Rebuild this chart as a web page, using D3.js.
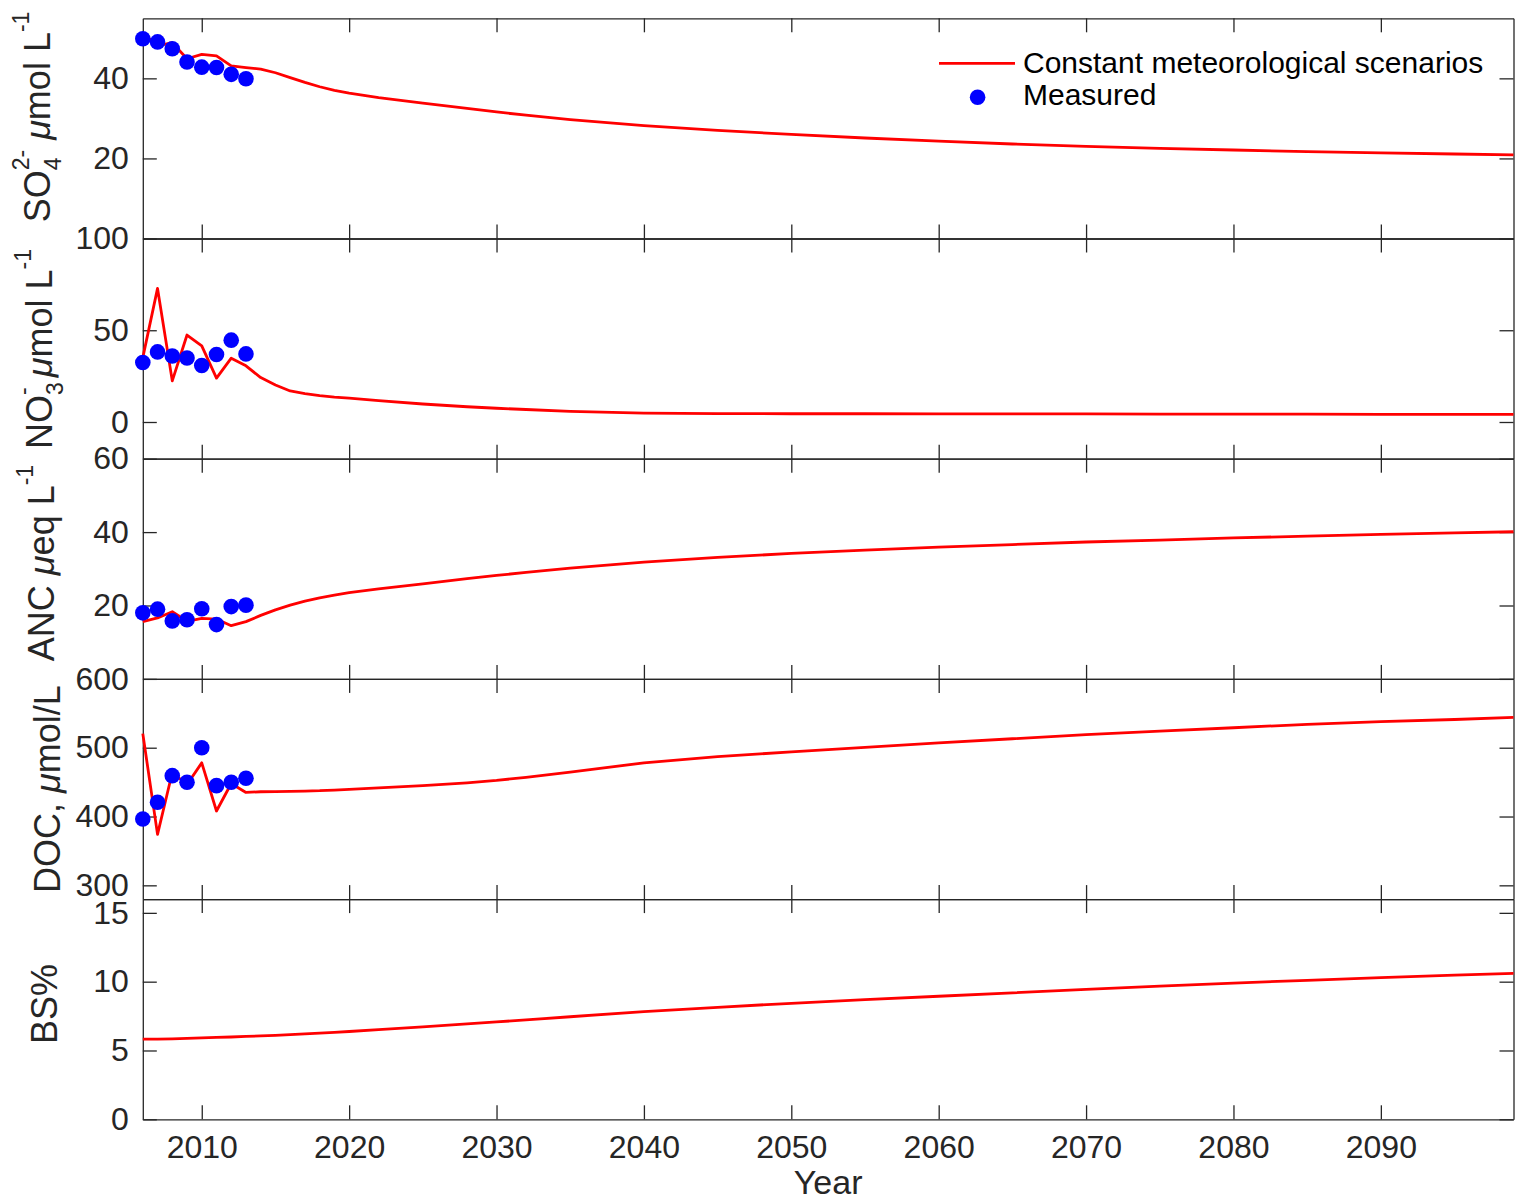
<!DOCTYPE html>
<html>
<head>
<meta charset="utf-8">
<script src="https://cdn.jsdelivr.net/npm/d3@7"></script>
<style>
  html, body { margin: 0; padding: 0; background: #fff; }
  svg { display: block; font-family: "Liberation Sans", Arial, Helvetica, sans-serif; }
</style>
</head>
<body>
<svg id="chart" width="1516" height="1201"></svg>
<script>
// ---- Simulated years (constant meteorological scenario) ----
const modelYears = [2006, 2007, 2008, 2009, 2010, 2011, 2012, 2013, 2014, 2015, 2016, 2017, 2018, 2019, 2020,
  2022, 2025, 2028, 2030, 2032, 2035, 2040, 2045, 2050, 2055, 2060, 2065, 2070, 2075, 2080, 2085, 2090, 2095, 2099];

// Sulphate, µmol/L
const so4Model = [51.4, 48.1, 48.9, 44.9, 46.0, 45.6, 43.1, 42.7, 42.3, 41.4, 40.2, 39.0, 37.9, 37.0, 36.3,
  35.2, 33.8, 32.5, 31.6, 30.8, 29.7, 28.2, 27.0, 26.0, 25.1, 24.3, 23.6, 23.0, 22.5, 22.1, 21.7, 21.4, 21.1, 20.9];
// Nitrate, µmol/L
const no3Model = [35.1, 72.8, 22.4, 47.4, 41.5, 23.9, 34.8, 30.6, 24.2, 20.2, 16.9, 15.5, 14.4, 13.6, 13.0,
  11.6, 9.8, 8.3, 7.5, 6.8, 5.8, 4.8, 4.6, 4.5, 4.5, 4.4, 4.4, 4.4, 4.3, 4.3, 4.3, 4.2, 4.2, 4.2];
// Acid neutralising capacity, µeq/L
const ancModel = [15.6, 16.6, 18.3, 15.7, 16.5, 16.3, 14.5, 15.6, 17.3, 18.8, 20.1, 21.2, 22.1, 22.8, 23.5,
  24.5, 25.9, 27.3, 28.2, 29.0, 30.2, 31.8, 33.1, 34.2, 35.1, 35.9, 36.6, 37.3, 37.8, 38.4, 38.9, 39.4, 39.8, 40.1];
// Dissolved organic carbon, µmol/L
const docModel = [520.5, 374, 464, 446.5, 478, 408, 448, 435, 436, 436.3, 436.6, 437, 437.5, 438.5, 439.5,
  441.5, 445, 449, 452.5, 457, 464.5, 478, 487, 494, 500.5, 507, 513, 519, 524, 529, 534, 538, 541, 544];
// Base saturation, %
const bsModel = [5.82, 5.83, 5.85, 5.88, 5.92, 5.95, 5.98, 6.02, 6.06, 6.10, 6.15, 6.20, 6.26, 6.32, 6.38,
  6.52, 6.72, 6.93, 7.08, 7.22, 7.45, 7.83, 8.14, 8.43, 8.69, 8.94, 9.19, 9.44, 9.67, 9.90, 10.10, 10.30, 10.47, 10.60];

// ---- Measured annual means ----
const measuredYears = [2006, 2007, 2008, 2009, 2010, 2011, 2012, 2013];
const so4Measured = [49.9, 49.1, 47.4, 44.1, 42.8, 42.7, 41.0, 39.9];
const no3Measured = [32.4, 38.2, 36.0, 34.9, 30.8, 36.8, 44.6, 37.1];
const ancMeasured = [18.0, 19.0, 15.8, 16.1, 19.1, 14.8, 19.7, 20.1];
const docMeasured = [396.5, 420.8, 459.4, 449.8, 500.0, 444.9, 449.8, 455.6];

// ---- Tick values ----
const xTickValues = [2010, 2020, 2030, 2040, 2050, 2060, 2070, 2080, 2090];
const so4Ticks = [20, 40];
const no3Ticks = [0, 50, 100];
const ancTicks = [20, 40, 60];
const docTicks = [300, 400, 500, 600];
const bsTicks = [0, 5, 10, 15];

// ---- Axis titles (segments: plain / italic / subscript / superscript) ----
const so4Title = [{t: "SO"}, {t: "4", sub: true}, {t: "2-", sup: true, stack: true}, {t: " "}, {t: "\u03bc", it: true}, {t: "mol L"}, {t: "-1", sup: true}];
const no3Title = [{t: "NO"}, {t: "3", sub: true}, {t: "-", sup: true, stack: true}, {t: " "}, {t: "\u03bc", it: true}, {t: "mol L"}, {t: "-1", sup: true}];
const ancTitle = [{t: "ANC "}, {t: "\u03bc", it: true}, {t: "eq L"}, {t: "-1", sup: true}];
const docTitle = [{t: "DOC, "}, {t: "\u03bc", it: true}, {t: "mol/L"}];
const bsTitle = [{t: "BS%"}];

const legendLabels = ["Constant meteorological scenarios", "Measured"];
const xTitle = "Year";

// ---- Layout ----
const axisColor = "#262626";
const lineColor = "#ff0000";
const dotColor = "#0000ff";
const plotLeft = 142.8, plotRight = 1513.5, plotTop = 18.3, panelH = 220.2;
const tickLen = 14;

const svg = d3.select("#chart");
const x = d3.scaleLinear().domain([2006, 2099]).range([plotLeft, plotRight]);

const panels = [
  {model: so4Model, meas: so4Measured, domain: [0, 55], ticks: so4Ticks, title: so4Title, tx: 50, ty: 117},
  {model: no3Model, meas: no3Measured, domain: [-20, 100], ticks: no3Ticks, title: no3Title, tx: 52, ty: 349},
  {model: ancModel, meas: ancMeasured, domain: [0, 60], ticks: ancTicks, title: ancTitle, tx: 53.5, ty: 563},
  {model: docModel, meas: docMeasured, domain: [280, 600], ticks: docTicks, title: docTitle, tx: 60, ty: 789},
  {model: bsModel, meas: null, domain: [0, 16], ticks: bsTicks, title: bsTitle, tx: 57, ty: 1004}
];

function styleAxis(g, fontSize) {
  g.attr("font-family", null).attr("font-size", null);
  g.selectAll(".domain").attr("stroke", axisColor).attr("stroke-width", 1.3);
  g.selectAll(".tick line").attr("stroke", axisColor).attr("stroke-width", 1.3);
  g.selectAll(".tick text").attr("fill", axisColor).attr("font-size", fontSize);
}

// Rotated axis title built from tspans, with TeX-like sub/superscripts
function drawTitle(segs, bx, cy) {
  const mainSize = 36, smallSize = 23, subShift = 11, supShift = 21;
  const t = svg.append("text")
    .attr("transform", `translate(${bx},${cy}) rotate(-90)`)
    .attr("text-anchor", "middle")
    .attr("fill", axisColor)
    .attr("font-size", mainSize);
  let cur = 0, prev = null;
  segs.forEach(s => {
    const target = s.sub ? subShift : (s.sup ? -supShift : 0);
    const ts = t.append("tspan").text(s.t).attr("dy", target - cur);
    cur = target;
    if (s.sub || s.sup) ts.attr("font-size", smallSize);
    if (s.it) ts.attr("font-style", "italic");
    if (s.stack && prev) ts.attr("dx", -prev.node().getComputedTextLength());
    prev = ts;
  });
}

panels.forEach((p, i) => {
  const y0 = plotTop + i * panelH, y1 = y0 + panelH;
  const y = d3.scaleLinear().domain(p.domain).range([y1, y0]);
  const g = svg.append("g");

  const bottomAxis = d3.axisBottom(x).tickValues(xTickValues).tickSize(-tickLen).tickSizeOuter(0).tickPadding(16)
    .tickFormat(i === panels.length - 1 ? d3.format("d") : () => "");
  g.append("g").attr("transform", `translate(0,${y1})`).call(bottomAxis).call(a => styleAxis(a, 32));

  const topAxis = d3.axisTop(x).tickValues(xTickValues).tickSize(-tickLen).tickSizeOuter(0).tickFormat(() => "");
  g.append("g").attr("transform", `translate(0,${y0})`).call(topAxis).call(a => styleAxis(a, 32));

  const leftAxis = d3.axisLeft(y).tickValues(p.ticks).tickSize(-tickLen).tickSizeOuter(0).tickPadding(14);
  g.append("g").attr("transform", `translate(${plotLeft},0)`).call(leftAxis).call(a => styleAxis(a, 32));

  const rightAxis = d3.axisRight(y).tickValues(p.ticks).tickSize(-tickLen).tickSizeOuter(0).tickFormat(() => "");
  g.append("g").attr("transform", `translate(${plotRight},0)`).call(rightAxis).call(a => styleAxis(a, 32));

  const line = d3.line().x(d => x(d[0])).y(d => y(d[1]));
  g.append("path")
    .datum(d3.zip(modelYears, p.model))
    .attr("d", line)
    .attr("fill", "none")
    .attr("stroke", lineColor)
    .attr("stroke-width", 2.8)
    .attr("stroke-linejoin", "round");

  if (p.meas) {
    g.selectAll("circle.meas")
      .data(d3.zip(measuredYears, p.meas))
      .join("circle")
      .attr("class", "meas")
      .attr("cx", d => x(d[0]))
      .attr("cy", d => y(d[1]))
      .attr("r", 7.8)
      .attr("fill", dotColor);
  }

  drawTitle(p.title, p.tx, p.ty);
});

// x-axis title
svg.append("text")
  .attr("x", (plotLeft + plotRight) / 2)
  .attr("y", 1194)
  .attr("text-anchor", "middle")
  .attr("fill", axisColor)
  .attr("font-size", 34)
  .text(xTitle);

// Legend
const legend = svg.append("g");
legend.append("line").attr("x1", 939).attr("x2", 1015).attr("y1", 63.3).attr("y2", 63.3)
  .attr("stroke", lineColor).attr("stroke-width", 2.8);
legend.append("circle").attr("cx", 977.6).attr("cy", 97.3).attr("r", 7.8).attr("fill", dotColor);
legend.selectAll("text.leg")
  .data(legendLabels)
  .join("text")
  .attr("class", "leg")
  .attr("x", 1023)
  .attr("y", (d, k) => 73 + k * 31.5)
  .attr("font-size", 30)
  .attr("fill", "#000")
  .text(d => d);
</script>
</body>
</html>
